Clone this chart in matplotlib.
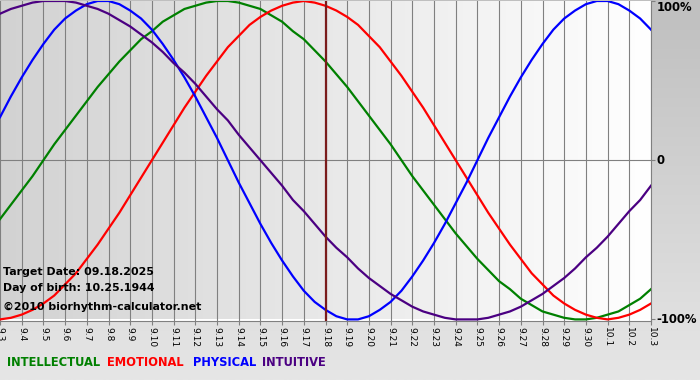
import numpy as np
import matplotlib
matplotlib.use("Agg")
import matplotlib.pyplot as plt
from matplotlib.colors import LinearSegmentedColormap

# ======= data =======
# day labels along the bottom (9.3 .. 10.3)
days = ["9.3", "9.4", "9.5", "9.6", "9.7", "9.8", "9.9", "9.10", "9.11", "9.12",
        "9.13", "9.14", "9.15", "9.16", "9.17", "9.18", "9.19", "9.20", "9.21",
        "9.22", "9.23", "9.24", "9.25", "9.26", "9.27", "9.28", "9.29", "9.30",
        "10.1", "10.2", "10.3"]

# curve values, read every half day from 9.3 to 10.3 (61 points each)
intellectual = [-0.37, -0.28, -0.19, -0.10, 0.00, 0.10, 0.19, 0.28, 0.37, 0.46,
                0.54, 0.62, 0.69, 0.76, 0.81, 0.87, 0.91, 0.95, 0.97, 0.99,
                1.00, 1.00, 0.99, 0.97, 0.95, 0.91, 0.87, 0.81, 0.76, 0.69,
                0.62, 0.54, 0.46, 0.37, 0.28, 0.19, 0.10, 0.00, -0.10, -0.19,
                -0.28, -0.37, -0.46, -0.54, -0.62, -0.69, -0.76, -0.81, -0.87,
                -0.91, -0.95, -0.97, -0.99, -1.00, -1.00, -0.99, -0.97, -0.95,
                -0.91, -0.87, -0.81]
emotional = [-1.00, -0.99, -0.97, -0.94, -0.90, -0.85, -0.78, -0.71, -0.62,
             -0.53, -0.43, -0.33, -0.22, -0.11, 0.00, 0.11, 0.22, 0.33, 0.43,
             0.53, 0.62, 0.71, 0.78, 0.85, 0.90, 0.94, 0.97, 0.99, 1.00, 0.99,
             0.97, 0.94, 0.90, 0.85, 0.78, 0.71, 0.62, 0.53, 0.43, 0.33, 0.22,
             0.11, 0.00, -0.11, -0.22, -0.33, -0.43, -0.53, -0.62, -0.71,
             -0.78, -0.85, -0.90, -0.94, -0.97, -0.99, -1.00, -0.99, -0.97,
             -0.94, -0.90]
physical = [0.27, 0.40, 0.52, 0.63, 0.73, 0.82, 0.89, 0.94, 0.98, 1.00, 1.00,
            0.98, 0.94, 0.89, 0.82, 0.73, 0.63, 0.52, 0.40, 0.27, 0.14, 0.00,
            -0.14, -0.27, -0.40, -0.52, -0.63, -0.73, -0.82, -0.89, -0.94,
            -0.98, -1.00, -1.00, -0.98, -0.94, -0.89, -0.82, -0.73, -0.63,
            -0.52, -0.40, -0.27, -0.14, 0.00, 0.14, 0.27, 0.40, 0.52, 0.63,
            0.73, 0.82, 0.89, 0.94, 0.98, 1.00, 1.00, 0.98, 0.94, 0.89, 0.82]
intuitive = [0.92, 0.95, 0.97, 0.99, 1.00, 1.00, 1.00, 0.99, 0.97, 0.95, 0.92,
             0.88, 0.84, 0.79, 0.74, 0.68, 0.61, 0.55, 0.48, 0.40, 0.32, 0.25,
             0.16, 0.08, 0.00, -0.08, -0.16, -0.25, -0.32, -0.40, -0.48, -0.55,
             -0.61, -0.68, -0.74, -0.79, -0.84, -0.88, -0.92, -0.95, -0.97,
             -0.99, -1.00, -1.00, -1.00, -0.99, -0.97, -0.95, -0.92, -0.88,
             -0.84, -0.79, -0.74, -0.68, -0.61, -0.55, -0.48, -0.40, -0.32,
             -0.25, -0.16]

target_day = "9.18"
y_ticks = [-1, 0, 1]
y_labels = ["-100%", "0", "100%"]

series = [
    ("INTELLECTUAL", intellectual, "#008000"),
    ("EMOTIONAL", emotional, "#ff0000"),
    ("PHYSICAL", physical, "#0000ff"),
    ("INTUITIVE", intuitive, "#4b0082"),
]

W, H = 700, 380
fig = plt.figure(figsize=(W / 100, H / 100), dpi=100)

# figure background: vertical grey gradient
bg = fig.add_axes([0, 0, 1, 1], zorder=-10)
bg_cmap = LinearSegmentedColormap.from_list("bg", ["#e6e6e6", "#bfbfbf"])
bg.imshow(np.linspace(0, 1, 256).reshape(-1, 1)[::-1], aspect="auto",
          cmap=bg_cmap, extent=[0, 1, 0, 1])
bg.axis("off")

ax = fig.add_axes([0, 59 / H, 651 / W, 320 / H])
x_days = np.arange(len(days))
x_half = np.arange(len(intellectual)) / 2.0  # half-day positions

# plot area: horizontal gradient, grey on the left fading to white
pa_cmap = LinearSegmentedColormap.from_list("pa", ["#d2d2d2", "#ffffff"])
ax.imshow(np.linspace(0, 1, 256).reshape(1, -1), aspect="auto", cmap=pa_cmap,
          extent=[0, len(days) - 1, -1, 1], zorder=0)

for xi in x_days:
    ax.axvline(xi, color="#808080", lw=0.8, zorder=1)
ax.axhline(0, color="#808080", lw=0.8, zorder=1)

for name, vals, col in series:
    ax.plot(x_half, vals, color=col, lw=1.6, zorder=3)

ax.axvline(days.index(target_day), color="#7a1c1c", lw=1.6, zorder=4)

ax.set_xlim(0, len(days) - 1)
ax.set_ylim(-1.01, 1.0)
ax.set_xticks(x_days)
ax.set_xticklabels(days, rotation=-90, fontsize=6.5)
ax.tick_params(axis="x", length=3, width=0.8, color="#808080", pad=1)
ax.yaxis.tick_right()
ax.set_yticks(y_ticks)
ax.set_yticklabels(y_labels, fontsize=8.4, fontweight="bold")
ax.tick_params(axis="y", length=3, width=0.8, color="#808080", pad=1)
ylbls = ax.get_yticklabels()
for lbl in ylbls:
    lbl.set_verticalalignment("center")
ylbls[-1].set_verticalalignment("top")

for s in ["top", "left"]:
    ax.spines[s].set_visible(False)
for s in ["right", "bottom"]:
    ax.spines[s].set_color("#808080")
    ax.spines[s].set_linewidth(0.8)

info = ["Target Date: 09.18.2025", "Day of birth: 10.25.1944",
        "\u00a92010 biorhythm-calculator.net"]
info_y = [271, 287, 306]
for txt, ty in zip(info, info_y):
    ax.text(3 / 651, (320 - ty) / 320, txt, transform=ax.transAxes,
            fontsize=7.9, fontweight="bold", va="center", zorder=5)

# coloured legend words along the bottom
legend_x = [7, 107, 193, 262]
for (name, vals, col), lx in zip(series, legend_x):
    fig.text(lx / W, 1 - 362 / H, name, color=col, fontsize=8.3,
             fontweight="bold", va="center")

fig.savefig("out.png", dpi=100)
